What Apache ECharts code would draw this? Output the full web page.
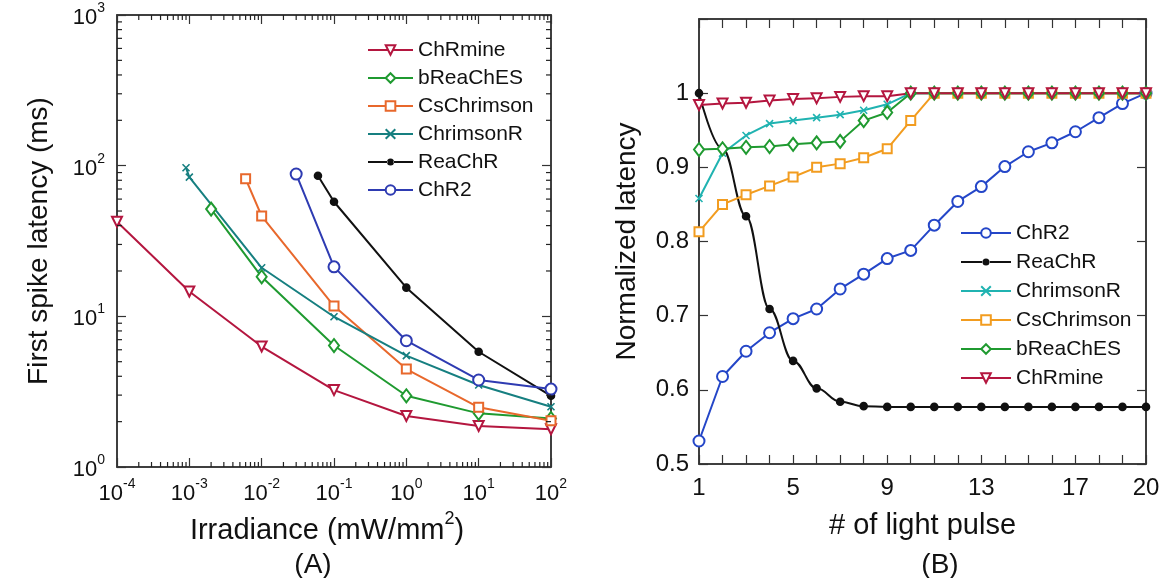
<!DOCTYPE html>
<html><head><meta charset="utf-8">
<script src="https://cdn.jsdelivr.net/npm/echarts@6/dist/echarts.min.js"></script>
<style>html,body{margin:0;padding:0;background:#fff}#c{width:1164px;height:578px}</style>
</head><body><div id="c"></div>
<script>
const FONT = '"Liberation Sans", Arial, Helvetica, sans-serif';

// ---------- Panel A data (log-log) ----------
const chrmineIrr    = [1e-4, 1e-3, 1e-2, 1e-1, 1, 10, 100];
const chrmineLat    = [42.4, 14.6, 6.3, 3.24, 2.18, 1.87, 1.78];
const breachesIrr   = [2e-3, 1e-2, 1e-1, 1, 10, 100];
const breachesLat   = [51.5, 18.3, 6.4, 2.97, 2.27, 2.1];
const cschrimsonIrr = [6e-3, 1e-2, 1e-1, 1, 10, 100];
const cschrimsonLat = [81.9, 46.3, 11.7, 4.47, 2.49, 2.03];
const chrimsonRIrr  = [9e-4, 1e-3, 1e-2, 1e-1, 1, 10, 100];
const chrimsonRLat  = [96.8, 84.0, 21.0, 9.94, 5.48, 3.5, 2.51];
const reachrIrr     = [6e-2, 1e-1, 1, 10, 100];
const reachrLat     = [85.7, 57.6, 15.5, 5.82, 2.97];
const chr2Irr       = [3e-2, 1e-1, 1, 10, 100];
const chr2Lat       = [88.0, 21.3, 6.89, 3.78, 3.29];

// ---------- Panel B data ----------
const pulses        = [1,2,3,4,5,6,7,8,9,10,11,12,13,14,15,16,17,18,19,20];
const chr2Norm      = [0.531,0.618,0.652,0.677,0.696,0.709,0.736,0.756,0.777,0.788,0.822,0.854,0.874,0.901,0.921,0.933,0.948,0.967,0.986,1.0];
const reachrNorm    = [1.0,0.925,0.834,0.709,0.639,0.602,0.584,0.578,0.577,0.577,0.577,0.577,0.577,0.577,0.577,0.577,0.577,0.577,0.577,0.577];
const chrimsonRNorm = [0.858,0.919,0.943,0.959,0.963,0.967,0.971,0.977,0.985,1.0,1.0,1.0,1.0,1.0,1.0,1.0,1.0,1.0,1.0,1.0];
const cschrimsonNorm= [0.813,0.850,0.863,0.875,0.887,0.900,0.905,0.913,0.925,0.963,1.0,1.0,1.0,1.0,1.0,1.0,1.0,1.0,1.0,1.0];
const breachesNorm  = [0.924,0.925,0.927,0.928,0.931,0.933,0.935,0.963,0.974,1.0,1.0,1.0,1.0,1.0,1.0,1.0,1.0,1.0,1.0,1.0];
const chrmineNorm   = [0.984,0.986,0.987,0.990,0.992,0.993,0.995,0.996,0.996,1.0,1.0,1.0,1.0,1.0,1.0,1.0,1.0,1.0,1.0,1.0];

// tick labels
const pulseTickLabels = [1, 5, 9, 13, 17, 20];
const latencyDecades  = [1, 10, 100];
const irrDecades      = [1e-4, 1e-3, 1e-2, 1e-1, 1, 10];
const minorMultipliers= [2, 3, 4, 5, 6, 7, 8, 9];

const legendA = ['ChRmine','bReaChES','CsChrimson','ChrimsonR','ReaChR','ChR2'];
const legendB = ['ChR2','ReaChR','ChrimsonR','CsChrimson','bReaChES','ChRmine'];

const COL = {
  ChRmine: '#b4163f', bReaChES: '#1f9a30',
  CsChrimsonA: '#e8682c', CsChrimsonB: '#f29c1f',
  ChrimsonRA: '#167f80', ChrimsonRB: '#20b3b1',
  ReaChR: '#111111', ChR2A: '#2e3bb2', ChR2B: '#2446c8'
};
const SYM = {
  ChRmine: {symbol: 'emptyTriangle', symbolRotate: 180, symbolSize: 10},
  bReaChES: {symbol: 'emptyDiamond', symbolSize: [10, 13]},
  CsChrimson: {symbol: 'emptyRect', symbolSize: 9},
  ChrimsonR: {symbol: 'path://M0,0L10,10M10,0L0,10', symbolSize: 7},
  ReaChR: {symbol: 'circle', symbolSize: 7},
  ChR2: {symbol: 'emptyCircle', symbolSize: 11}
};
// legend icon for the small filled-dot series: line + small dot (line split so fills don't cancel)
function dotLineIcon(w) {
  const c = w / 2, r = 3.5;
  return 'path://M0,0M' + w + ',12' +
         'M0,5L' + (c - r + 0.5) + ',5L' + (c - r + 0.5) + ',7L0,7Z' +
         'M' + (c + r - 0.5) + ',5L' + w + ',5L' + w + ',7L' + (c + r - 0.5) + ',7Z' +
         'M' + (c - r) + ',6A' + r + ',' + r + ' 0 1,0 ' + (c + r) + ',6A' + r + ',' + r + ' 0 1,0 ' + (c - r) + ',6Z';
}

function zip(a, b) { return a.map((v, i) => [v, b[i]]); }
function mk(name, color, xs, ys, axisIdx, smooth) {
  return Object.assign({
    type: 'line', name: name, data: zip(xs, ys),
    xAxisIndex: axisIdx, yAxisIndex: axisIdx,
    smooth: smooth, smoothMonotone: 'x',
    lineStyle: {color: color, width: 2},
    itemStyle: {color: color, borderColor: color, borderWidth: 1.6},
    emphasis: {disabled: true}, animation: false, z: 3
  }, SYM[name]);
}

const minorXData = [];
irrDecades.forEach(d => minorMultipliers.forEach(m => minorXData.push([d * m, 10])));
const minorYData = [];
latencyDecades.forEach(d => minorMultipliers.forEach(m => minorYData.push([0.01, d * m])));

function minorTicks(dir) {
  return function (params, api) {
    const cs = params.coordSys;
    const p = api.coord([api.value(0), api.value(1)]);
    const st = {stroke: '#222', lineWidth: 1.2};
    const L = 5;
    if (dir === 'x') {
      const x = p[0], yb = cs.y + cs.height, yt = cs.y;
      return {type: 'group', children: [
        {type: 'line', shape: {x1: x, y1: yb, x2: x, y2: yb - L}, style: st},
        {type: 'line', shape: {x1: x, y1: yt, x2: x, y2: yt + L}, style: st}]};
    }
    const y = p[1], xl = cs.x, xr = cs.x + cs.width;
    return {type: 'group', children: [
      {type: 'line', shape: {x1: xl, y1: y, x2: xl + L, y2: y}, style: st},
      {type: 'line', shape: {x1: xr, y1: y, x2: xr - L, y2: y}, style: st}]};
  };
}

const powRich = {
  b: {fontSize: 22, fontFamily: FONT, color: '#111', lineHeight: 28, verticalAlign: 'bottom'},
  s: {fontSize: 14, fontFamily: FONT, color: '#111', lineHeight: 14, verticalAlign: 'top'}
};
function powFmt(v) { const e = Math.round(Math.log10(v)); return '{b|10}{s|' + e + '}'; }

const axLine = {show: true, lineStyle: {color: '#333', width: 1.5}};
const tickIn = {show: true, inside: true, length: 9, lineStyle: {color: '#333', width: 1.2}};

function legendItems(names, suffix, w) {
  return names.map(n => {
    const c = COL[n + suffix] || COL[n];
    const item = {name: n, itemStyle: {borderColor: c, color: c}, lineStyle: {color: c}};
    if (n === 'ReaChR') { item.icon = dotLineIcon(w); item.itemStyle.borderWidth = 0; }
    return item;
  });
}

const chart = echarts.init(document.getElementById('c'), null, {renderer: 'canvas'});
chart.setOption({
  animation: false,
  backgroundColor: '#fff',
  textStyle: {fontFamily: FONT},
  grid: [
    {left: 117, top: 15, width: 434, height: 452, show: true, borderColor: '#333', borderWidth: 1.5},
    {left: 699, top: 19, width: 447, height: 445, show: true, borderColor: '#333', borderWidth: 1.5}
  ],
  xAxis: [
    {type: 'log', logBase: 10, gridIndex: 0, min: 1e-4, max: 100, splitNumber: 6, position: 'bottom',
     axisLine: axLine, axisTick: tickIn, splitLine: {show: false},
     axisLabel: {formatter: powFmt, rich: powRich, margin: 10},
     name: '{t|Irradiance (mW/mm}{u|2}{t|)}', nameLocation: 'middle', nameGap: 39,
     nameTextStyle: {padding: [0, 14, 0, 0], rich: {
       t: {fontSize: 29, fontFamily: FONT, color: '#111', lineHeight: 36, verticalAlign: 'bottom'},
       u: {fontSize: 18, fontFamily: FONT, color: '#111', lineHeight: 18, verticalAlign: 'top'}}}},
    {type: 'log', logBase: 10, gridIndex: 0, min: 1e-4, max: 100, splitNumber: 6, position: 'top',
     axisLine: axLine, axisTick: tickIn, splitLine: {show: false}, axisLabel: {show: false}},
    {type: 'value', gridIndex: 1, min: 1, max: 20, interval: 1, position: 'bottom',
     axisLine: axLine, axisTick: tickIn, splitLine: {show: false},
     axisLabel: {fontSize: 24, color: '#111', margin: 12, fontFamily: FONT,
       formatter: v => pulseTickLabels.indexOf(Math.round(v)) >= 0 ? String(Math.round(v)) : ''},
     name: '# of light pulse', nameLocation: 'middle', nameGap: 47,
     nameTextStyle: {fontSize: 29, color: '#111', fontFamily: FONT}},
    {type: 'value', gridIndex: 1, min: 1, max: 20, interval: 1, position: 'top',
     axisLine: axLine, axisTick: tickIn, splitLine: {show: false}, axisLabel: {show: false}}
  ],
  yAxis: [
    {type: 'log', logBase: 10, gridIndex: 0, min: 1, max: 1000, splitNumber: 3, position: 'left',
     axisLine: axLine, axisTick: tickIn, splitLine: {show: false},
     axisLabel: {formatter: powFmt, rich: powRich, margin: 12},
     name: 'First spike latency (ms)', nameLocation: 'middle', nameGap: 64,
     nameTextStyle: {fontSize: 28, color: '#111', fontFamily: FONT}},
    {type: 'log', logBase: 10, gridIndex: 0, min: 1, max: 1000, splitNumber: 3, position: 'right',
     axisLine: axLine, axisTick: tickIn, splitLine: {show: false}, axisLabel: {show: false}},
    {type: 'value', gridIndex: 1, min: 0.5, max: 1.1, interval: 0.1, position: 'left',
     axisLine: axLine, axisTick: tickIn, splitLine: {show: false},
     axisLabel: {fontSize: 24, color: '#111', margin: 10, fontFamily: FONT,
       formatter: v => v > 1.05 ? '' : String(Math.round(v * 10) / 10)},
     name: 'Normalized latency', nameLocation: 'middle', nameGap: 58,
     nameTextStyle: {fontSize: 28, color: '#111', fontFamily: FONT}},
    {type: 'value', gridIndex: 1, min: 0.5, max: 1.1, interval: 0.1, position: 'right',
     axisLine: axLine, axisTick: tickIn, splitLine: {show: false}, axisLabel: {show: false}}
  ],
  legend: [
    {data: legendItems(legendA, 'A', 45), orient: 'vertical', left: 362, top: 34, itemWidth: 45, itemHeight: 12, itemGap: 6,
     textStyle: {fontSize: 21, color: '#111', fontFamily: FONT, lineHeight: 22}, selectedMode: false},
    {data: legendItems(legendB, 'B', 50), orient: 'vertical', left: 955, top: 217, itemWidth: 50, itemHeight: 12, itemGap: 7,
     textStyle: {fontSize: 21, color: '#111', fontFamily: FONT, lineHeight: 22}, selectedMode: false}
  ],
  graphic: [
    {type: 'text', x: 313, y: 565, style: {text: '(A)', font: '28px ' + FONT, fill: '#111', textAlign: 'center', textVerticalAlign: 'middle'}},
    {type: 'text', x: 940, y: 565, style: {text: '(B)', font: '28px ' + FONT, fill: '#111', textAlign: 'center', textVerticalAlign: 'middle'}}
  ],
  series: [
    {type: 'custom', coordinateSystem: 'cartesian2d', xAxisIndex: 0, yAxisIndex: 0, data: minorXData,
     encode: {x: 0, y: 1}, clip: false, renderItem: minorTicks('x'), silent: true, z: 5},
    {type: 'custom', coordinateSystem: 'cartesian2d', xAxisIndex: 0, yAxisIndex: 0, data: minorYData,
     encode: {x: 0, y: 1}, clip: false, renderItem: minorTicks('y'), silent: true, z: 5},
    mk('ChRmine', COL.ChRmine, chrmineIrr, chrmineLat, 0, false),
    mk('bReaChES', COL.bReaChES, breachesIrr, breachesLat, 0, false),
    mk('CsChrimson', COL.CsChrimsonA, cschrimsonIrr, cschrimsonLat, 0, false),
    mk('ChrimsonR', COL.ChrimsonRA, chrimsonRIrr, chrimsonRLat, 0, false),
    mk('ReaChR', COL.ReaChR, reachrIrr, reachrLat, 0, false),
    mk('ChR2', COL.ChR2A, chr2Irr, chr2Lat, 0, false),
    mk('ChR2', COL.ChR2B, pulses, chr2Norm, 2, false),
    mk('ReaChR', COL.ReaChR, pulses, reachrNorm, 2, 0.4),
    mk('ChrimsonR', COL.ChrimsonRB, pulses, chrimsonRNorm, 2, false),
    mk('CsChrimson', COL.CsChrimsonB, pulses, cschrimsonNorm, 2, false),
    mk('bReaChES', COL.bReaChES, pulses, breachesNorm, 2, false),
    mk('ChRmine', COL.ChRmine, pulses, chrmineNorm, 2, false)
  ]
});
</script></body></html>
